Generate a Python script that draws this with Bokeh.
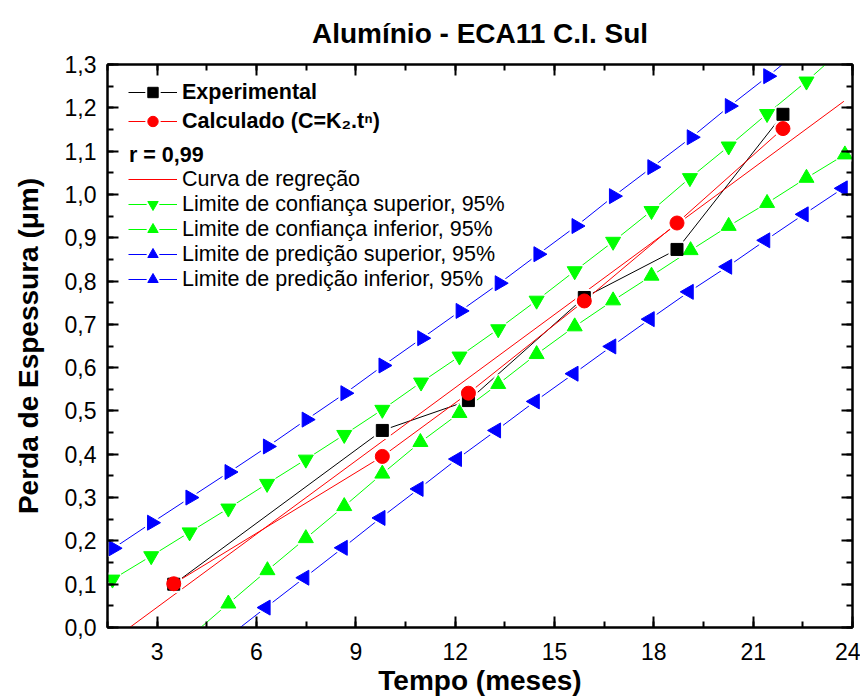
from bokeh.plotting import figure
from bokeh.models import (Range1d, SingleIntervalTicker, LinearAxis, CustomJSTickFormatter,
                          Legend, LegendItem)
from bokeh.embed import file_html
from bokeh.resources import INLINE
import math

# ---------------- data ----------------
tempo = [3.5, 9.8, 12.4, 15.9, 18.7, 21.9]
experimental = [0.100, 0.455, 0.524, 0.762, 0.873, 1.185]
calculado = [0.101, 0.395, 0.541, 0.754, 0.934, 1.152]

reg_x = [2.17, 23.74]
reg_y = [0.0, 1.215]

conf_sup_x = [1.65, 2.82, 3.98, 5.15, 6.32, 7.49, 8.65, 9.80, 10.97, 12.13, 13.30,
              14.46, 15.61, 16.77, 17.93, 19.09, 20.26, 21.42, 22.61, 23.77]
conf_sup_y = [0.111, 0.165, 0.220, 0.275, 0.332, 0.388, 0.445, 0.503, 0.566, 0.626, 0.689,
              0.755, 0.823, 0.891, 0.962, 1.038, 1.111, 1.186, 1.261, 1.340]

conf_inf_x = [3.98, 5.15, 6.33, 7.49, 8.65, 9.80, 10.95, 12.13, 13.30, 14.46, 15.61,
              16.77, 17.93, 19.11, 20.26, 21.42, 22.61, 23.77]
conf_inf_y = [-0.022, 0.055, 0.132, 0.206, 0.280, 0.355, 0.428, 0.495, 0.562, 0.631, 0.695,
              0.755, 0.812, 0.871, 0.927, 0.980, 1.038, 1.092]

pred_sup_x = [1.68, 2.84, 4.00, 5.18, 6.34, 7.51, 8.68, 9.83, 11.00, 12.16, 13.34,
              14.51, 15.66, 16.79, 17.95, 19.14, 20.29, 21.45, 22.60]
pred_sup_y = [0.183, 0.242, 0.300, 0.359, 0.418, 0.480, 0.541, 0.605, 0.668, 0.731, 0.795,
              0.862, 0.927, 0.996, 1.063, 1.132, 1.204, 1.273, 1.345]

pred_inf_x = [5.12, 6.28, 7.45, 8.61, 9.75, 10.90, 12.06, 13.24, 14.41, 15.58, 16.72,
              17.88, 19.06, 20.22, 21.37, 22.53, 23.71]
pred_inf_y = [-0.023, 0.046, 0.115, 0.184, 0.253, 0.320, 0.389, 0.455, 0.522, 0.586, 0.649,
              0.712, 0.775, 0.833, 0.894, 0.954, 1.014]

x_ticks_interval = 3
y_ticks_interval = 0.1

title_text = "Alumínio - ECA11 C.I. Sul"
x_label = "Tempo (meses)"
y_label = "Perda de Espessura (μm)"

lbl_exp = "Experimental"
lbl_calc = "Calculado (C=K₂.tⁿ)"
lbl_r = "r = 0,99"
lbl_reg = "Curva de regreção"
lbl_cs = "Limite de confiança superior, 95%"
lbl_ci = "Limite de confiança inferior, 95%"
lbl_ps = "Limite de predição superior, 95%"
lbl_pi = "Limite de predição inferior, 95%"

FONT = "Liberation Sans"

# ---------------- figure ----------------
p = figure(width=860, height=698,
           x_range=Range1d(1.5, 24.0), y_range=Range1d(0.0, 1.3000001),
           output_backend="svg", toolbar_location=None,
           x_axis_type=None, y_axis_type=None,
           min_border_left=107, min_border_right=8, min_border_top=64, min_border_bottom=70)
p.grid.visible = False
p.outline_line_color = "black"
p.outline_line_width = 2
p.background_fill_color = "white"
p.border_fill_color = "white"

p.title.text = title_text
p.title.align = "center"
p.title.text_font = FONT
p.title.text_font_style = "bold"
p.title.text_font_size = "28px"
p.title.text_color = "black"
p.title.standoff = 31

xt = SingleIntervalTicker(interval=x_ticks_interval, num_minor_ticks=2)
yt = SingleIntervalTicker(interval=y_ticks_interval, num_minor_ticks=2)
yfmt = CustomJSTickFormatter(code="return tick.toFixed(1).replace('.', ',');")


def style_axis(ax, show_labels=True):
    ax.axis_line_width = 2
    ax.axis_line_color = "black"
    ax.major_tick_in = 11
    ax.major_tick_out = 0
    ax.minor_tick_in = 6
    ax.minor_tick_out = 0
    ax.major_tick_line_width = 2
    ax.minor_tick_line_width = 2
    ax.major_tick_line_color = "black"
    ax.minor_tick_line_color = "black"
    if show_labels:
        ax.major_label_text_font = FONT
        ax.major_label_text_font_size = "23px"
        ax.major_label_text_color = "black"
        ax.axis_label_text_font = FONT
        ax.axis_label_text_font_size = "28px"
        ax.axis_label_text_font_style = "bold"
        ax.axis_label_text_color = "black"
    else:
        ax.major_label_text_font_size = "0px"
        ax.major_label_text_color = None
        ax.major_label_standoff = 0
        ax.axis_label = None


xaxis = LinearAxis(ticker=xt, axis_label=x_label)
style_axis(xaxis)
xaxis.major_label_standoff = 15
xaxis.axis_label_standoff = 2
p.add_layout(xaxis, "below")

yaxis = LinearAxis(ticker=yt, formatter=yfmt, axis_label=y_label)
style_axis(yaxis)
yaxis.major_label_standoff = 11
yaxis.axis_label_standoff = 18
p.add_layout(yaxis, "left")

top_axis = LinearAxis(ticker=xt)
style_axis(top_axis, show_labels=False)
p.add_layout(top_axis, "above")

right_axis = LinearAxis(ticker=yt)
style_axis(right_axis, show_labels=False)
p.add_layout(right_axis, "right")

# ---------------- series ----------------
BLACK, RED, GREEN, BLUE = "#000000", "#ff0000", "#00ff00", "#0000ff"

series = [
    # x, y, colour, marker, size, angle
    (pred_sup_x, pred_sup_y, BLUE, "triangle", 15, -math.pi / 2),
    (pred_inf_x, pred_inf_y, BLUE, "triangle", 15, math.pi / 2),
    (conf_sup_x, conf_sup_y, GREEN, "inverted_triangle", 15, 0.0),
    (conf_inf_x, conf_inf_y, GREEN, "triangle", 15, 0.0),
    (tempo, experimental, BLACK, "square", 12, 0.0),
    (tempo, calculado, RED, "circle", 14, 0.0),
]

lines = []
for (x, y, c, m, s, a) in series:
    lines.append(p.line(x, y, line_color=c, line_width=1))
reg_line = p.line(reg_x, reg_y, line_color=RED, line_width=1)

halos = []
for (x, y, c, m, s, a) in series:
    halos.append(p.scatter(x, y, marker=m, size=s, angle=a,
                           fill_color="white", line_color="white", line_width=5))
marks = []
for (x, y, c, m, s, a) in series:
    marks.append(p.scatter(x, y, marker=m, size=s, angle=a,
                           fill_color=c, line_color=c, line_width=1))

blank = p.line([], [], line_alpha=0)

# ---------------- legend (one legend per row) ----------------
GW, GH, XOFF = 49, 26, 21


def add_row(label, renderers, vy, bold=False, xoff=XOFF, gw=GW, standoff=5):
    lg = Legend(items=[LegendItem(label=label, renderers=renderers)],
                location=(xoff, vy), glyph_width=gw, glyph_height=GH, label_height=GH,
                label_standoff=standoff, padding=0, margin=0, spacing=0,
                border_line_alpha=0, background_fill_alpha=0,
                label_text_font=FONT, label_text_font_size="21.5px",
                label_text_font_style="bold" if bold else "normal",
                label_text_color="black", label_text_baseline="middle")
    p.add_layout(lg)


def grp(i):
    return [lines[i], halos[i], marks[i]]


add_row(lbl_exp, grp(4), 522, bold=True)
add_row(lbl_calc, grp(5), 493, bold=True)
add_row(lbl_r, [blank], 459, bold=True, xoff=22, gw=0, standoff=0)
add_row(lbl_reg, [reg_line], 435)
add_row(lbl_cs, grp(2), 410)
add_row(lbl_ci, grp(3), 385)
add_row(lbl_ps, grp(0), 360)
add_row(lbl_pi, grp(1), 335)

open("out.html", "w").write(file_html(p, INLINE))
